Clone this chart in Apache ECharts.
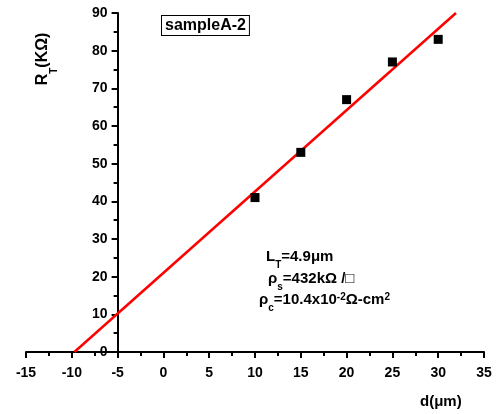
<!DOCTYPE html>
<html><head><meta charset="utf-8">
<script src="https://cdn.jsdelivr.net/npm/echarts@6/dist/echarts.min.js"></script>
<style>html,body{margin:0;padding:0;background:#fff}#c{width:501px;height:414px}</style>
</head><body><div id="c"></div>
<script>
// Data
var dValues = [10, 15, 20, 25, 30];          // d (µm)
var rtValues = [41, 53, 67, 77, 83];         // R_T (KΩ)
var fitX = [-9.72, 31.94];                   // linear fit endpoints
var fitY = [0, 90];
var xTicks = [-15, -10, -5, 0, 5, 10, 15, 20, 25, 30, 35];
var yTicks = [0, 10, 20, 30, 40, 50, 60, 70, 80, 90];

var F = '"Liberation Sans", Arial, sans-serif';
var chart = echarts.init(document.getElementById('c'), null, {renderer: 'canvas'});
var lbl = {color: '#000', fontFamily: F, fontWeight: 'bold', fontSize: 14};
chart.setOption({
  animation: false,
  grid: {left: 26, right: 17, top: 13, bottom: 62, containLabel: false},
  xAxis: {
    type: 'value', min: xTicks[0], max: xTicks[xTicks.length - 1], interval: 5,
    axisLine: {onZero: false, lineStyle: {color: '#000', width: 2}},
    axisTick: {length: 6, lineStyle: {width: 2, color: '#000'}},
    minorTick: {show: true, splitNumber: 2, length: 4, lineStyle: {width: 2, color: '#000'}},
    axisLabel: Object.assign({margin: 14}, lbl),
    splitLine: {show: false}
  },
  yAxis: {
    type: 'value', min: yTicks[0], max: yTicks[yTicks.length - 1], interval: 10,
    offset: -91.6,
    axisLine: {show: true, onZero: false, lineStyle: {color: '#000', width: 2}},
    axisTick: {show: true, length: 6, lineStyle: {width: 2, color: '#000'}},
    minorTick: {show: true, splitNumber: 2, length: 4, lineStyle: {width: 2, color: '#000'}},
    axisLabel: Object.assign({margin: 10}, lbl),
    splitLine: {show: false}
  },
  series: [
    {
      type: 'line',
      data: fitX.map(function (x, i) { return [x, fitY[i]]; }),
      symbol: 'none',
      lineStyle: {color: '#ff0000', width: 2.5},
      clip: true, z: 2
    },
    {
      type: 'scatter',
      data: dValues.map(function (x, i) { return [x, rtValues[i]]; }),
      symbol: 'rect', symbolSize: 9,
      itemStyle: {color: '#000', opacity: 1}, z: 3
    }
  ],
  graphic: [
    {
      type: 'text', left: 161, top: 15,
      style: {
        text: 'sampleA-2', fill: '#000', font: 'bold 16px ' + F,
        borderColor: '#000', borderWidth: 1, padding: [2, 3, 1, 3], backgroundColor: '#fff'
      }
    },
    {
      type: 'text', x: 47, y: 59, rotation: Math.PI / 2,
      style: {
        text: '{m|R}{s|T}{m|(KΩ)}', align: 'center', verticalAlign: 'middle',
        rich: {
          m: {font: 'bold 16px ' + F, fill: '#000', lineHeight: 24, verticalAlign: 'top'},
          s: {font: 'bold 10px ' + F, fill: '#000', verticalAlign: 'bottom'}
        }
      }
    },
    {
      type: 'text', left: 420, top: 394,
      style: {text: 'd(μm)', fill: '#000', font: 'bold 15px ' + F}
    },
    {
      type: 'text', left: 266, top: 249,
      style: {
        text: '{m|L}{s|T}{m|=4.9μm}',
        rich: {
          m: {font: 'bold 15px ' + F, fill: '#000', lineHeight: 21, verticalAlign: 'top'},
          s: {font: 'bold 10px ' + F, fill: '#000', verticalAlign: 'bottom'}
        }
      }
    },
    {
      type: 'text', left: 268, top: 271,
      style: {
        text: '{m|ρ}{s|s}{m|=432kΩ /□}',
        rich: {
          m: {font: 'bold 15px ' + F, fill: '#000', lineHeight: 21, verticalAlign: 'top'},
          s: {font: 'bold 10px ' + F, fill: '#000', verticalAlign: 'bottom'}
        }
      }
    },
    {
      type: 'text', left: 259, top: 292,
      style: {
        text: '{m|ρ}{s|c}{m|=10.4x10}{p|-2}{m|Ω-cm}{p|2}',
        rich: {
          m: {font: 'bold 15px ' + F, fill: '#000', lineHeight: 21, verticalAlign: 'top'},
          s: {font: 'bold 10px ' + F, fill: '#000', verticalAlign: 'bottom'},
          p: {font: 'bold 10px ' + F, fill: '#000', verticalAlign: 'top'}
        }
      }
    }
  ]
});
</script></body></html>
